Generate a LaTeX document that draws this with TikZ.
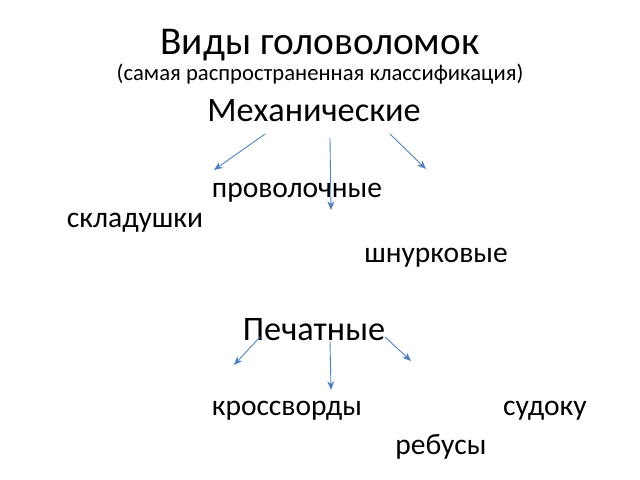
\documentclass[tikz,border=0pt]{standalone}
\usepackage{fontspec}
\setmainfont{Carlito}
\usetikzlibrary{arrows.meta}
\definecolor{arr}{RGB}{79,129,189}
\begin{document}
\begin{tikzpicture}[x=0.02cm,y=-0.02cm,
  lbl/.style={inner sep=0pt,font=\fontsize{16.8}{18}\selectfont},
  head/.style={inner sep=0pt,font=\fontsize{19.5}{22}\selectfont},
  conn/.style={draw=arr,line width=0.5pt,-{Stealth[length=5pt,width=4pt]}}]
\useasboundingbox (0,0) rectangle (640,480);
\node[inner sep=0pt,font=\fontsize{22.4}{24}\selectfont] (title) at (320,45) {Виды головоломок};
\node[inner sep=0pt,font=\fontsize{12.9}{14}\selectfont] (sub) at (320,74) {(самая распространенная классификация)};
\node[head] (mech) at (314,111) {Механические};
\node[lbl] (wire) at (297,193) {проволочные};
\node[lbl] (fold) at (135,223) {складушки};
\node[lbl] (lace) at (436,258) {шнурковые};
\node[head] (print) at (314,330) {Печатные};
\node[lbl] (cross) at (287,411) {кроссворды};
\node[lbl] (sud) at (545,411) {судоку};
\node[lbl] (reb) at (441,447) {ребусы};
\coordinate (m1) at (265,134); \coordinate (e1) at (214,170);
\coordinate (m2) at (330,138); \coordinate (e2) at (331,210);
\coordinate (m3) at (390,134); \coordinate (e3) at (426,169);
\coordinate (p1) at (260,337); \coordinate (f1) at (234,365);
\coordinate (p2) at (330,341); \coordinate (f2) at (331,390);
\coordinate (p3) at (385,337); \coordinate (f3) at (411,361);
\draw[conn] (m1) -- (e1);
\draw[conn] (m2) -- (e2);
\draw[conn] (m3) -- (e3);
\draw[conn] (p1) -- (f1);
\draw[conn] (p2) -- (f2);
\draw[conn] (p3) -- (f3);
\end{tikzpicture}
\end{document}
